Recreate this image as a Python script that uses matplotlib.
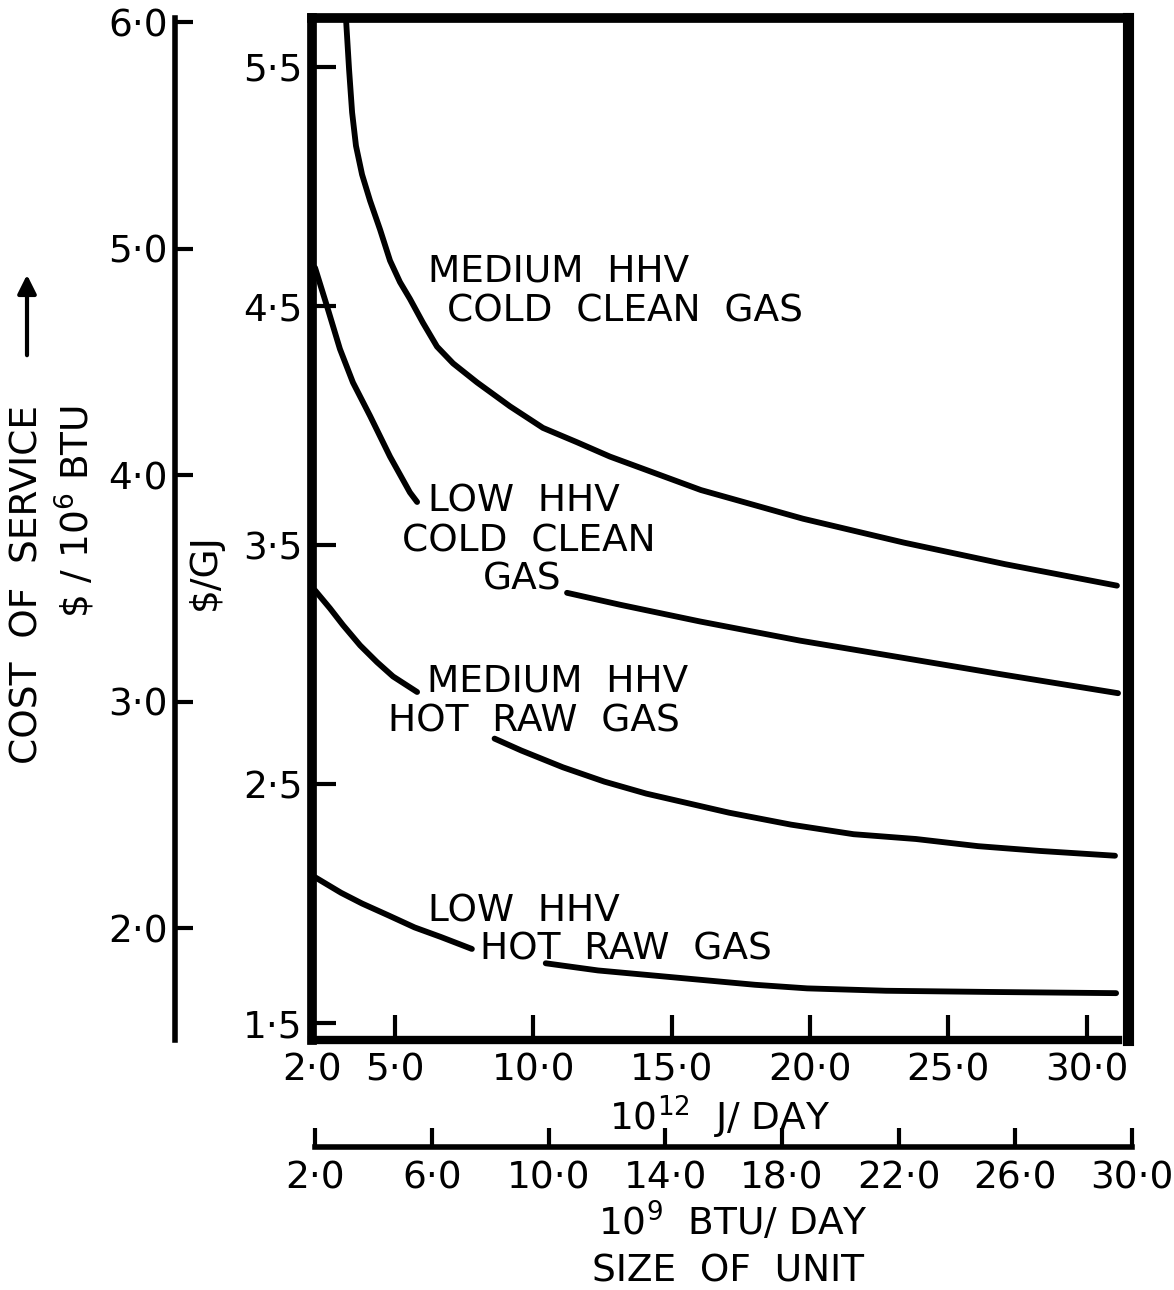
import matplotlib.pyplot as plt
import numpy as np

W, H = 1174, 1290
MMBTU_PER_GJ = 1.055   # $/10^6 BTU = 1.055 x $/GJ ; 10^12 J = 10^9 BTU x 1.055

# size of unit in 10^12 J/day, cost in $/GJ
med_cold_x = [3.23, 3.34, 3.45, 3.59, 3.81, 4.10, 4.46, 4.82, 5.18, 5.54, 6.01, 6.52, 7.10, 7.97,
              9.16, 10.35, 11.58, 12.77, 16.06, 19.75, 23.40, 27.05, 31.10]
med_cold_y = [5.70, 5.49, 5.31, 5.17, 5.05, 4.94, 4.82, 4.69, 4.60, 4.53, 4.43, 4.33, 4.26, 4.18,
              4.08, 3.99, 3.93, 3.87, 3.73, 3.61, 3.51, 3.42, 3.33]

low_cold_x1 = [2.11, 2.54, 3.01, 3.48, 4.10, 4.82, 5.54, 5.80]
low_cold_y1 = [4.66, 4.50, 4.32, 4.18, 4.04, 3.87, 3.72, 3.68]
low_cold_x2 = [11.22, 13.14, 16.03, 19.64, 23.26, 26.87, 31.14]
low_cold_y2 = [3.30, 3.25, 3.18, 3.10, 3.03, 2.96, 2.88]

med_hot_x1 = [2.11, 2.65, 3.12, 3.74, 4.35, 4.93, 5.80]
med_hot_y1 = [3.31, 3.235, 3.165, 3.08, 3.01, 2.95, 2.885]
med_hot_x2 = [8.60, 9.57, 11.07, 12.57, 14.08, 15.58, 17.08, 19.32, 21.58, 23.83, 26.08, 28.32, 31.03]
med_hot_y2 = [2.69, 2.64, 2.57, 2.51, 2.46, 2.42, 2.38, 2.33, 2.29, 2.27, 2.24, 2.22, 2.20]

low_hot_x1 = [2.11, 3.05, 3.81, 4.77, 5.71, 6.66, 7.78]
low_hot_y1 = [2.11, 2.045, 2.00, 1.95, 1.90, 1.86, 1.81]
low_hot_x2 = [10.45, 12.34, 15.18, 18.02, 19.90, 22.75, 26.53, 31.07]
low_hot_y2 = [1.75, 1.72, 1.69, 1.66, 1.645, 1.635, 1.63, 1.625]

gj_ticks = [1.5, 2.5, 3.5, 4.5, 5.5]
btu_ticks = [2.0, 3.0, 4.0, 5.0, 6.0]
j_ticks = [2.0, 5.0, 10.0, 15.0, 20.0, 25.0, 30.0]
btu_day_ticks = [2.0, 6.0, 10.0, 14.0, 18.0, 22.0, 26.0, 30.0]


def fmt(v):
    return f"{v:.1f}".replace(".", "\u00b7")


def fx(px):
    return px / W


def fy(py):
    return 1 - py / H


plt.rcParams['font.family'] = 'DejaVu Sans'
plt.rcParams['mathtext.default'] = 'regular'

fig = plt.figure(figsize=(W / 100, H / 100), dpi=100)

L, R, T, B = 312, 1128, 18, 1040
ax = fig.add_axes([fx(L), fy(B), (R - L) / W, (B - T) / H])
xlim = (2.0, 31.5)
ylim = (1.429, 5.705)
ax.set_xlim(*xlim)
ax.set_ylim(*ylim)

for s in ['left', 'top']:
    ax.spines[s].set_linewidth(7)
ax.spines['right'].set_linewidth(8)
ax.spines['bottom'].set_linewidth(6)
ax.spines['bottom'].set_bounds(2.0, 31.15)

lw = 4.2
for xs, ys in [(med_cold_x, med_cold_y), (low_cold_x1, low_cold_y1), (low_cold_x2, low_cold_y2),
               (med_hot_x1, med_hot_y1), (med_hot_x2, med_hot_y2),
               (low_hot_x1, low_hot_y1), (low_hot_x2, low_hot_y2)]:
    ax.plot(xs, ys, color='black', lw=lw, solid_capstyle='round', solid_joinstyle='round')

ax.set_yticks(gj_ticks)
ax.set_yticklabels([fmt(v) for v in gj_ticks])
ax.set_xticks(j_ticks)
ax.set_xticklabels([fmt(v) for v in j_ticks])
ax.tick_params(axis='y', direction='in', length=17, width=3, labelsize=27, pad=7)
ax.tick_params(axis='x', direction='in', length=18, width=3, labelsize=27, pad=9)

# outer $/10^6 BTU axis
sec = ax.secondary_yaxis((175 - L) / (R - L),
                         functions=(lambda v: v * MMBTU_PER_GJ, lambda v: v / MMBTU_PER_GJ))
sec.set_yticks(btu_ticks)
sec.set_yticklabels([fmt(v) for v in btu_ticks])
sec.spines['left'].set_linewidth(4)
sec.tick_params(axis='y', direction='in', length=13, width=3, labelsize=27, pad=5)

# 10^9 BTU/day axis
ppu = (R - L) / (xlim[1] - xlim[0])
bl = L + (btu_day_ticks[0] * MMBTU_PER_GJ - xlim[0]) * ppu
br = L + (btu_day_ticks[-1] * MMBTU_PER_GJ - xlim[0]) * ppu
ax2 = fig.add_axes([fx(bl), fy(1147), (br - bl) / W, 0.0001])
ax2.set_xlim(btu_day_ticks[0], btu_day_ticks[-1])
ax2.patch.set_visible(False)
for s in ['left', 'right', 'top']:
    ax2.spines[s].set_visible(False)
ax2.spines['bottom'].set_linewidth(4)
ax2.set_yticks([])
ax2.set_xticks(btu_day_ticks)
ax2.set_xticklabels([fmt(v) for v in btu_day_ticks])
ax2.tick_params(axis='x', direction='in', length=14, width=3, labelsize=27, pad=10)

# curve labels (left x, vertical centre in pixels)
labels = [
    ("MEDIUM  HHV", 428, 268),
    ("COLD  CLEAN  GAS", 447, 308),
    ("LOW  HHV", 428, 497),
    ("COLD  CLEAN", 402, 537),
    ("GAS", 483, 576),
    ("MEDIUM  HHV", 427, 678),
    ("HOT  RAW  GAS", 388, 718),
    ("LOW  HHV", 428, 907),
    ("HOT  RAW  GAS", 480, 945),
]
for txt, px, py in labels:
    fig.text(fx(px), fy(py + 14), txt, fontsize=27, ha='left', va='baseline')

# axis titles
fig.text(fx(28), fy(585), "COST  OF  SERVICE", fontsize=27, rotation=90, ha='center', va='center')
fig.text(fx(75), fy(512), "\\$ / 10$^6$ BTU", fontsize=27, rotation=90, ha='center', va='center')
fig.text(fx(205), fy(572), "\\$/GJ", fontsize=27, rotation=90, ha='center', va='center')
fig.text(fx(720), fy(1117), "10$^{12}$  J/ DAY", fontsize=27, ha='center', va='center')
fig.text(fx(733), fy(1222), "10$^{9}$  BTU/ DAY", fontsize=27, ha='center', va='center')
fig.text(fx(728), fy(1272), "SIZE  OF  UNIT", fontsize=27, ha='center', va='center')

ax.annotate('', xy=(fx(27), fy(272)), xytext=(fx(27), fy(358)),
            xycoords='figure fraction', textcoords='figure fraction',
            arrowprops=dict(arrowstyle='-|>', lw=3, color='black', mutation_scale=28))

fig.savefig('out.png', dpi=100)
